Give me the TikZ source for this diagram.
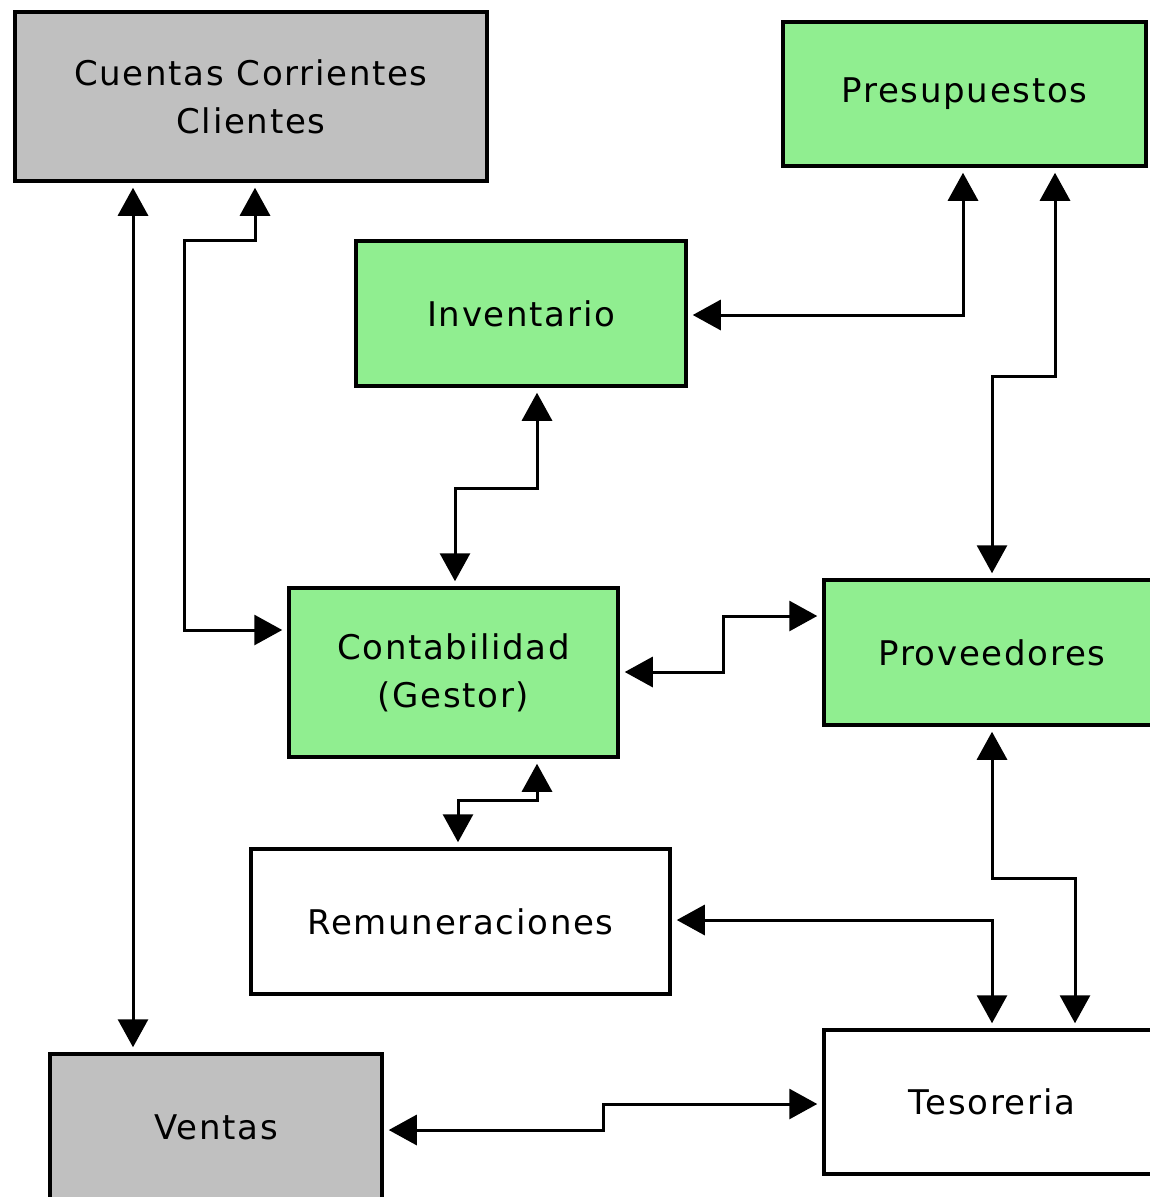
\documentclass[tikz,border=0pt]{standalone}
\usepackage{fontspec}
\setmainfont{DejaVu Sans}[LetterSpace=5]
\usetikzlibrary{arrows.meta}
\definecolor{verde}{RGB}{144,238,144}
\definecolor{gris}{RGB}{192,192,192}
\tikzset{
  modulo/.style={draw=black,line width=3.5pt,align=center,inner sep=0pt,
    font=\fontsize{34}{48}\selectfont},
  link/.style={{Triangle[width=30pt,length=28pt]}-{Triangle[width=30pt,length=28pt]},
    line width=3pt,shorten <=5pt,shorten >=5pt}
}
\begin{document}
\begin{tikzpicture}[x=1pt,y=-1pt]
  \useasboundingbox[fill=white] (0,0) rectangle (1150,1197);
  \clip (0,0) rectangle (1150,1197);

  \node[modulo,fill=gris,minimum width=472pt,minimum height=169pt] (cuentas) at (251,96.5) {Cuentas Corrientes\\Clientes};
  \node[modulo,fill=verde,minimum width=363pt,minimum height=144pt] (presup) at (964.5,94) {Presupuestos};
  \node[modulo,fill=verde,minimum width=330pt,minimum height=145pt] (invent) at (521,313.5) {Inventario};
  \node[modulo,fill=verde,minimum width=329pt,minimum height=169pt] (conta) at (453.5,672.5) {Contabilidad\\(Gestor)};
  \node[modulo,fill=verde,minimum width=336pt,minimum height=145pt] (prov) at (992,652.5) {Proveedores};
  \node[modulo,fill=white,minimum width=419pt,minimum height=145pt] (remun) at (460.5,921.5) {Remuneraciones};
  \node[modulo,fill=gris,minimum width=332pt,minimum height=146pt] (ventas) at (216,1127) {Ventas};
  \node[modulo,fill=white,minimum width=336pt,minimum height=144pt] (tesor) at (992,1102) {Tesoreria};

  \draw[link] (cuentas.south -| 133,0) -- (ventas.north -| 133,0);
  \draw[link] (cuentas.south -| 255,0) -- (255,240) -- (184,240) -- (184,630) -- (conta.west |- 0,630);
  \draw[link] (presup.south -| 963,0) -- (963,315) -- (invent.east |- 0,315);
  \draw[link] (presup.south -| 1055,0) -- (1055,376) -- (992,376) -- (prov.north);
  \draw[link] (invent.south -| 537,0) -- (537,488) -- (455,488) -- (conta.north -| 455,0);
  \draw[link] (conta.east |- 0,672) -- (723,672) -- (723,616) -- (prov.west |- 0,616);
  \draw[link] (conta.south -| 537,0) -- (537,800) -- (458,800) -- (remun.north -| 458,0);
  \draw[link] (remun.east |- 0,920) -- (992,920) -- (tesor.north);
  \draw[link] (prov.south) -- (992,878) -- (1075,878) -- (tesor.north -| 1075,0);
  \draw[link] (ventas.east |- 0,1130) -- (603,1130) -- (603,1104) -- (tesor.west |- 0,1104);
\end{tikzpicture}
\end{document}
